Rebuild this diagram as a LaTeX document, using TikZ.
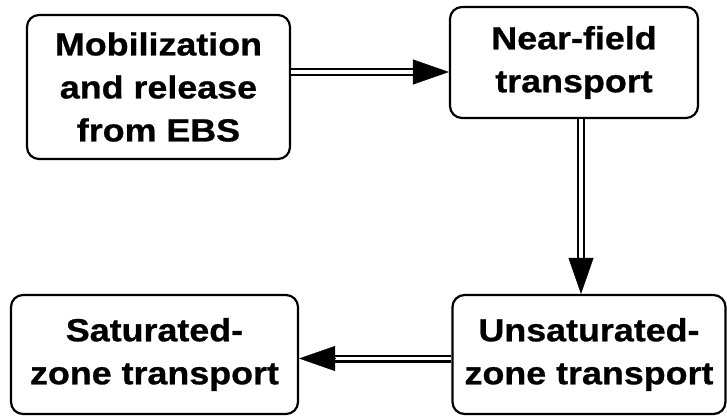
\documentclass[tikz,border=0pt]{standalone}
\usepackage{fontspec}
\newfontfamily\boxfont{Liberation Sans}[FakeStretch=1.12, FakeBold=0.8]
\usetikzlibrary{arrows.meta, positioning}

\tikzset{
	stage/.style={draw, line width=2.2pt, rounded corners=12pt, align=center, inner sep=0pt,
		font=\boxfont\bfseries\fontsize{32}{43}\selectfont},
	shaft/.style={draw, line width=2.2pt, double=white, double distance=3.6pt},
	head/.style={line width=0.4pt, -{Triangle[length=36pt, width=25pt]}}
}

\begin{document}
\begin{tikzpicture}[x=1pt, y=1pt]
		\useasboundingbox (0,0) rectangle (727,416);

		\node[stage, minimum width=263pt, minimum height=144pt] (mob) at (158.5,329) {Mobilization\\and release\\from EBS};
		\node[stage, minimum width=248pt, minimum height=111pt] (near) at (574,353.5) {Near-field\\transport};
		\node[stage, minimum width=273pt, minimum height=119pt] (unsat) at (589,61.5) {Unsaturated-\\zone transport};
		\node[stage, minimum width=287pt, minimum height=119pt] (sat) at (154.5,61.5) {Saturated-\\zone transport};

		% release -> near field
		\draw[shaft] ([yshift=15pt]mob.east) -- ([yshift=-9.5pt, xshift=-35pt]near.west);
		\draw[head] ([yshift=-9.5pt, xshift=-36pt]near.west) -- ([yshift=-9.5pt]near.west);

		% near field -> unsaturated zone
		\draw[shaft] ([xshift=7pt]near.south) -- ([xshift=-8pt, yshift=35pt]unsat.north);
		\draw[head] ([xshift=-8pt, yshift=36pt]unsat.north) -- ([xshift=-8pt]unsat.north);

		% unsaturated zone -> saturated zone
		\draw[shaft] ([yshift=-4pt]unsat.west) -- ([yshift=-4pt, xshift=35pt]sat.east);
		\draw[head] ([yshift=-4pt, xshift=36pt]sat.east) -- ([yshift=-4pt]sat.east);

	\end{tikzpicture}
\end{document}
